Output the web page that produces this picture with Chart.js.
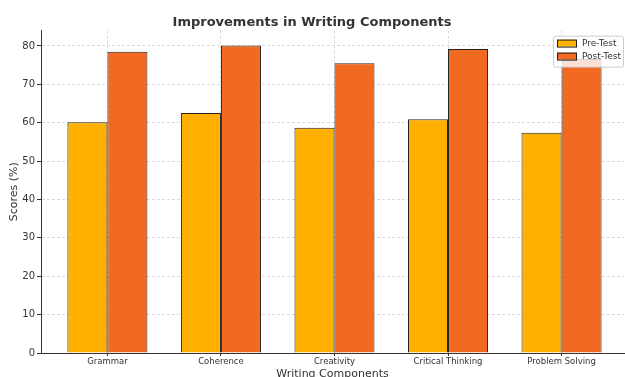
<!DOCTYPE html>
<html>
<head>
<meta charset="utf-8">
<script src="https://cdn.jsdelivr.net/npm/chart.js@4/dist/chart.umd.min.js"></script>
<style>
  html, body { margin: 0; padding: 0; background: #fff; }
  #wrap { width: 625px; height: 377px; }
</style>
</head>
<body>
<div id="wrap"><canvas id="chart" width="625" height="377"></canvas></div>
<script>
const categories = ["Grammar", "Coherence", "Creativity", "Critical Thinking", "Problem Solving"];
const preTest = [60.1, 62.5, 58.7, 60.9, 57.4];
const postTest = [78.5, 80.1, 75.5, 79.2, 76.6];
const yTicks = [0, 10, 20, 30, 40, 50, 60, 70, 80];

const preColor = "#FFB000";
const postColor = "#F26A22";
const font = "DejaVu Sans";

// legend box drawn inside the plot, top right (like matplotlib)
const boxLegend = {
  id: "boxLegend",
  afterDraw(chart) {
    const c = chart.ctx;
    const area = chart.chartArea;
    const w = 70, h = 31;
    const x = area.right - w - 1, y = area.top + 5;
    c.save();
    c.fillStyle = "rgba(255,255,255,0.8)";
    c.strokeStyle = "#cccccc";
    c.lineWidth = 1;
    c.beginPath();
    c.roundRect(x + 0.5, y + 0.5, w, h, 2);
    c.fill();
    c.stroke();
    const items = chart.data.datasets;
    c.font = "9px '" + font + "'";
    c.textBaseline = "middle";
    items.forEach((ds, i) => {
      const ry = y + 4 + i * 13;
      c.fillStyle = ds.backgroundColor;
      c.fillRect(x + 4, ry, 20, 7);
      c.strokeStyle = "#222";
      c.strokeRect(x + 4.5, ry + 0.5, 19, 7);
      c.fillStyle = "#333";
      c.fillText(ds.label, x + 29, ry + 4);
    });
    c.restore();
  }
};

new Chart(document.getElementById("chart"), {
  type: "bar",
  data: {
    datasets: [
      {
        label: "Pre-Test",
        data: preTest.map((v, i) => ({ x: i, y: v })),
        backgroundColor: preColor,
        borderColor: "#222",
        borderWidth: 1,
        categoryPercentage: 0.705,
        barPercentage: 1
      },
      {
        label: "Post-Test",
        data: postTest.map((v, i) => ({ x: i, y: v })),
        backgroundColor: postColor,
        borderColor: "#222",
        borderWidth: 1,
        categoryPercentage: 0.705,
        barPercentage: 1
      }
    ]
  },
  options: {
    responsive: false,
    animation: false,
    layout: { padding: { left: 0, right: 1, top: 0, bottom: 0 } },
    plugins: {
      legend: { display: false },
      tooltip: { enabled: false },
      title: {
        display: true,
        text: "Improvements in Writing Components",
        color: "#333",
        font: { family: font, size: 13, weight: "bold" },
        padding: { top: 15, bottom: 0 }
      }
    },
    scales: {
      x: {
        type: "linear",
        offset: false,
        min: -0.585,
        max: 4.55,
        afterBuildTicks: axis => { axis.ticks = categories.map((c, i) => ({ value: i })); },
        afterFit: scale => { scale.height = 24; },
        ticks: {
          callback: v => categories[v],
          color: "#333",
          font: { family: font, size: 8.5 },
          padding: 1,
          maxRotation: 0,
          autoSkip: false
        },
        grid: {
          offset: false,
          color: "rgba(0,0,0,0.14)",
          tickColor: "#333",
          tickLength: 3,
          tickBorderDash: []
        },
        border: { display: true, color: "#333", width: 1, dash: [3, 2] },
        title: {
          display: true,
          text: "Writing Components",
          color: "#333",
          font: { family: font, size: 11 },
          padding: { top: 0, bottom: -4 }
        }
      },
      y: {
        min: 0,
        max: 84,
        afterBuildTicks: axis => { axis.ticks = yTicks.map(v => ({ value: v })); },
        afterFit: scale => { scale.width = 41; },
        ticks: {
          color: "#333",
          font: { family: font, size: 10 },
          padding: 2
        },
        grid: {
          color: "rgba(0,0,0,0.14)",
          tickColor: "#333",
          tickLength: 4,
          tickBorderDash: []
        },
        border: { display: true, color: "#333", width: 1, dash: [3, 2] },
        title: {
          display: true,
          text: "Scores (%)",
          color: "#333",
          font: { family: font, size: 11 },
          padding: 8
        }
      }
    }
  },
  plugins: [boxLegend]
});
</script>
</body>
</html>
